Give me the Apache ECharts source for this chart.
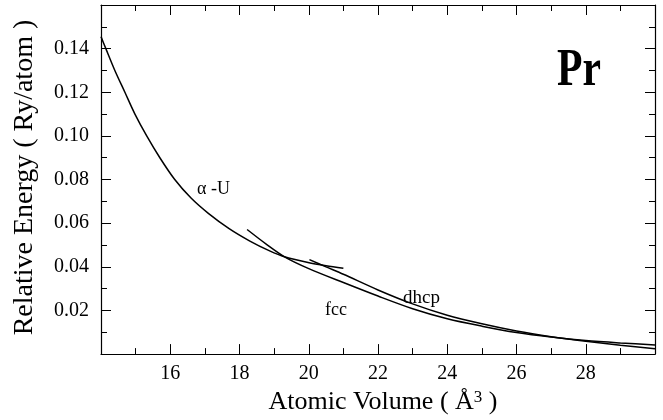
<!DOCTYPE html>
<html>
<head>
<meta charset="utf-8">
<script src="https://cdn.jsdelivr.net/npm/echarts/dist/echarts.min.js"></script>
<style>
html, body { margin: 0; padding: 0; background: #fff; }
#grafico { width: 663px; height: 420px; }
</style>
</head>
<body>
<div id="grafico"></div>
<script>
// valores: volumen atomico (A^3) y energia relativa (Ry/atom)
const volAlphaU = [14.0, 14.14, 14.4, 14.69, 14.98, 15.32, 15.7, 16.13, 16.6, 17.1, 17.7, 18.3, 18.87, 19.3, 19.98, 20.5, 21.0]
const eAlphaU = [0.1455, 0.140, 0.130, 0.120, 0.110, 0.100, 0.090, 0.080, 0.0715, 0.0645, 0.0575, 0.0518, 0.0473, 0.0446, 0.0420, 0.0405, 0.0393]

const volFcc = [18.22, 18.78, 19.3, 20, 21, 22, 23, 24, 25, 26, 27, 28, 29, 30]
const eFcc = [0.0571, 0.0503, 0.0446, 0.0392, 0.0328, 0.0266, 0.0208, 0.0162, 0.0128, 0.0099, 0.0078, 0.0062, 0.0051, 0.0042]

const volDhcp = [20.02, 20.5, 21, 22, 23, 24, 25, 26, 27, 28, 29, 30]
const eDhcp = [0.0433, 0.0400, 0.0366, 0.0294, 0.0230, 0.0178, 0.0139, 0.0106, 0.0080, 0.0059, 0.0041, 0.0024]

const serif = '"Liberation Serif", "DejaVu Serif", serif'

function pares(xs, ys) {
  return xs.map((x, i) => [x, ys[i]])
}

function ejeX(pos, conTexto) {
  return {
    type: 'value',
    position: pos,
    min: 14,
    max: 30,
    interval: 2,
    axisLine: { onZero: false, lineStyle: { color: '#000', width: 1.2 } },
    axisTick: { inside: true, length: 10, lineStyle: { color: '#000', width: 1 } },
    minorTick: { show: true, splitNumber: 2, length: 6, lineStyle: { color: '#000', width: 1 } },
    splitLine: { show: false },
    axisLabel: {
      show: conTexto,
      color: '#000',
      fontFamily: serif,
      fontSize: 20,
      margin: 10,
      showMinLabel: false,
      showMaxLabel: false
    }
  }
}

function ejeY(pos, conTexto) {
  return {
    type: 'value',
    position: pos,
    min: 0,
    max: 0.16,
    interval: 0.02,
    axisLine: { onZero: false, lineStyle: { color: '#000', width: 1.2 } },
    axisTick: { inside: true, length: 10, lineStyle: { color: '#000', width: 1 } },
    minorTick: { show: true, splitNumber: 2, length: 6, lineStyle: { color: '#000', width: 1 } },
    splitLine: { show: false },
    axisLabel: {
      show: conTexto,
      color: '#000',
      fontFamily: serif,
      fontSize: 20,
      margin: 12,
      showMinLabel: false,
      showMaxLabel: false,
      formatter: v => v.toFixed(2)
    }
  }
}

let xAbajo = ejeX('bottom', true)
xAbajo.name = 'Atomic Volume ( Å{sup|3} )'
xAbajo.nameLocation = 'middle'
xAbajo.nameGap = 29
xAbajo.nameTextStyle = {
  color: '#000',
  fontFamily: serif,
  fontSize: 26,
  padding: [0, 0, 0, 10],
  rich: { sup: { color: '#000', fontFamily: serif, fontSize: 17, verticalAlign: 'top' } }
}

let yIzq = ejeY('left', true)
yIzq.name = 'Relative Energy ( Ry/atom )'
yIzq.nameLocation = 'middle'
yIzq.nameGap = 62
yIzq.nameTextStyle = { color: '#000', fontFamily: serif, fontSize: 28, padding: [0, 0, 0, 4] }

const linea = { color: '#000', width: 1.5 }

let myChart = echarts.init(document.getElementById('grafico'))

let option = {
  backgroundColor: '#fff',
  animation: false,
  grid: { left: 101, right: 8, top: 5, bottom: 60 },
  xAxis: [xAbajo, ejeX('top', false)],
  yAxis: [yIzq, ejeY('right', false)],
  series: [
    {
      name: 'α-U',
      type: 'line',
      data: pares(volAlphaU, eAlphaU),
      showSymbol: false,
      smooth: 0.3,
      lineStyle: linea
    },
    {
      name: 'fcc',
      type: 'line',
      data: pares(volFcc, eFcc),
      showSymbol: false,
      smooth: 0.3,
      lineStyle: linea
    },
    {
      name: 'dhcp',
      type: 'line',
      data: pares(volDhcp, eDhcp),
      showSymbol: false,
      smooth: 0.3,
      lineStyle: linea
    }
  ],
  graphic: [
    { type: 'text', x: 557, y: 46, scaleX: 0.8, style: { text: 'Pr', font: 'bold 52px ' + serif, fill: '#000' } },
    { type: 'text', left: 197, top: 180, style: { text: 'α -U', font: '18px ' + serif, fill: '#000' } },
    { type: 'text', left: 325, top: 301, style: { text: 'fcc', font: '18px ' + serif, fill: '#000' } },
    { type: 'text', left: 403, top: 289, style: { text: 'dhcp', font: '19px ' + serif, fill: '#000' } }
  ]
}

myChart.setOption(option)
</script>
</body>
</html>
